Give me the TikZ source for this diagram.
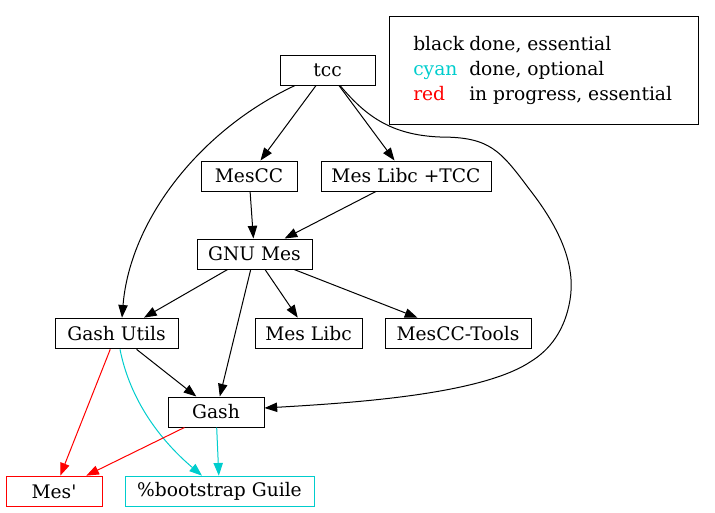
\documentclass[tikz,border=0pt]{standalone}
\usepackage{fontspec}
\newfontfamily\dvs{DejaVu Serif}
\usetikzlibrary{arrows.meta,calc}
\definecolor{gvcyan}{RGB}{0,205,205}
\begin{document}
\begin{tikzpicture}[x=0.75pt,y=-0.75pt,
  font=\dvs\fontsize{14}{17}\selectfont,
  box/.style={draw, line width=0.75pt, inner sep=0pt, minimum height=22.5pt},
  edge/.style={line width=0.75pt, -{Triangle[length=9.5pt,width=7pt]}},
  lbl/.style={anchor=base west, inner sep=0pt}]
\useasboundingbox (0,0) rectangle (715,512);
% nodes
\node[box, minimum width=71.25pt] (tcc) at (327.5,70) {tcc};
\node[box, minimum width=72pt] (mescc) at (249,176) {MesCC};
\node[box, minimum width=127.5pt] (libtcc) at (406,176) {Mes Libc +TCC};
\node[box, minimum width=86.25pt] (gnumes) at (254.5,254) {GNU Mes};
\node[box, minimum width=92.25pt, minimum height=23pt] (gashutils) at (116.5,333.5) {Gash Utils};
\node[box, minimum width=80.25pt, minimum height=23pt] (meslibc) at (308.5,333.5) {Mes Libc};
\node[box, minimum width=109.5pt, minimum height=23pt] (mcctools) at (458,333.5) {MesCC-Tools};
\node[box, minimum width=72pt] (gash) at (216,412) {Gash};
\node[box, draw=red, minimum width=72pt, minimum height=23pt] (mesp) at (54,491.5) {Mes'};
\node[box, draw=gvcyan, minimum width=141.75pt, minimum height=23pt] (guile) at (219.5,491.5) {\%bootstrap Guile};
% legend
\node[box, minimum width=231.75pt, minimum height=81pt] (legend) at (543.5,70) {};
\node[lbl] (k1) at (413,50) {black};
\node[lbl] (v1) at (469,50) {done, essential};
\node[lbl, text=gvcyan] (k2) at (413,75.5) {cyan};
\node[lbl] (v2) at (469,75.5) {done, optional};
\node[lbl, text=red] (k3) at (413,100.5) {red};
\node[lbl] (v3) at (469,100.5) {in progress, essential};
% edges
\draw[edge] (tcc) -- (mescc);
\draw[edge] (tcc) -- (libtcc);
\draw[edge] ($(tcc.south)+(-32.5,0)$) .. controls (200,130) and (130,220) .. ($(gashutils.north)+(5.5,0)$);
\draw[edge] ($(tcc.south)+(12.5,0)$) .. controls (365,115) and (390,135) .. (440,137)
  .. controls (490,137) and (500,150) .. (530,190)
  .. controls (565,235) and (575,270) .. (570,300)
  .. controls (565,330) and (550,350) .. (530,362)
  .. controls (480,395) and (350,403) .. ($(gash.east)+(0,-4)$);
\draw[edge] (mescc) -- (gnumes);
\draw[edge] (libtcc) -- (gnumes);
\draw[edge] (gnumes) -- (gashutils);
\draw[edge] (gnumes) -- (meslibc);
\draw[edge] (gnumes) -- (mcctools);
\draw[edge] (gnumes) -- (gash);
\draw[edge] (gashutils) -- (gash);
\draw[edge, red] (gashutils) -- (mesp);
\draw[edge, gvcyan] ($(gashutils.south)+(3.5,0)$) .. controls (130,400) and (160,440) .. ($(guile.north)+(-17.5,0)$);
\draw[edge, red] (gash) -- (mesp);
\draw[edge, gvcyan] (gash) -- (guile);
\end{tikzpicture}
\end{document}
